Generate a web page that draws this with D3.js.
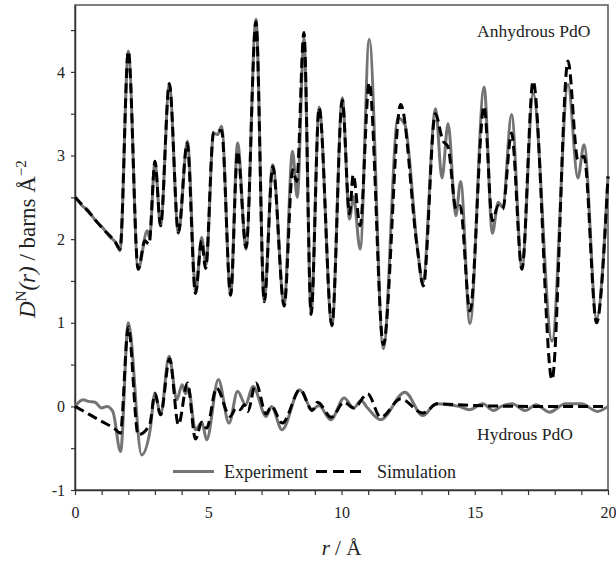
<!DOCTYPE html>
<html>
<head>
<meta charset="utf-8">
<script src="https://cdn.jsdelivr.net/npm/d3@7"></script>
<style>
  body { margin: 0; background: #fff; }
  text { font-family: "Liberation Serif", "Times New Roman", serif; fill: #222; }
</style>
</head>
<body>
<div id="chart"></div>
<script>
// Data: [r (Å), D(r)]
const anhydrousExp = [[0,2.51],[0.3,2.39],[0.45,2.36],[0.75,2.23],[1.0,2.15],[1.3,2.03],[1.55,1.95],[1.69,1.86],[2.0,4.25],[2.37,1.64],[2.71,2.10],[2.8,2.02],[3.0,2.93],[3.21,2.16],[3.54,3.85],[3.88,2.07],[4.22,3.17],[4.53,1.36],[4.75,2.02],[4.92,1.70],[5.2,3.27],[5.35,3.25],[5.5,3.35],[5.84,1.33],[6.1,3.15],[6.42,1.88],[6.79,4.63],[7.1,1.27],[7.42,2.89],[7.85,1.22],[8.16,3.05],[8.34,2.50],[8.59,4.40],[8.86,1.12],[9.16,3.58],[9.64,0.96],[10.03,3.69],[10.3,2.24],[10.45,2.51],[10.7,1.88],[11.04,4.39],[11.57,0.69],[12.12,3.45],[12.38,3.37],[12.84,1.92],[13.05,1.48],[13.53,3.56],[13.77,2.73],[14.0,3.38],[14.29,2.28],[14.47,2.69],[14.82,0.99],[15.35,3.82],[15.66,2.07],[15.88,2.44],[16.05,2.38],[16.38,3.49],[16.77,1.66],[17.19,3.74],[17.9,0.78],[18.5,3.85],[18.87,2.73],[19.1,3.13],[19.57,1.05],[20,2.75]];

const anhydrousSim = [[0,2.50],[0.5,2.33],[1.0,2.14],[1.5,1.97],[1.69,1.88],[2.0,4.25],[2.37,1.64],[2.62,1.98],[2.78,1.94],[3.0,2.93],[3.21,2.16],[3.54,3.86],[3.88,2.08],[4.21,3.15],[4.52,1.35],[4.75,1.98],[4.9,1.65],[5.2,3.28],[5.5,3.30],[5.84,1.33],[6.1,3.05],[6.42,1.90],[6.79,4.60],[7.1,1.25],[7.42,2.87],[7.85,1.20],[8.17,2.83],[8.32,2.69],[8.59,4.47],[8.86,1.10],[9.16,3.57],[9.64,0.97],[10.03,3.66],[10.3,2.30],[10.44,2.77],[10.7,2.16],[11.04,3.87],[11.57,0.74],[12.22,3.61],[12.84,1.90],[13.07,1.44],[13.52,3.50],[13.8,3.18],[14.0,3.10],[14.3,2.36],[14.45,2.40],[14.82,1.14],[15.35,3.59],[15.66,2.22],[15.88,2.40],[16.05,2.36],[16.38,3.27],[16.77,1.64],[17.19,3.89],[17.9,0.32],[18.5,4.13],[18.87,2.95],[19.1,2.99],[19.57,1.00],[20,2.75]];

const hydrousExp = [[0,0],[0.3,0.08],[0.5,0.06],[0.75,0.05],[1.0,-0.02],[1.2,0.0],[1.42,-0.06],[1.71,-0.54],[2.0,1.0],[2.5,-0.58],[2.82,-0.28],[3.0,0.16],[3.21,-0.10],[3.53,0.60],[3.82,0.08],[4.02,0.26],[4.15,0.15],[4.25,0.22],[4.52,-0.28],[4.76,-0.19],[4.94,-0.40],[5.38,0.32],[5.78,-0.20],[6.1,0.18],[6.4,0.02],[6.68,0.24],[7.17,-0.12],[7.37,0.0],[7.77,-0.28],[8.43,0.20],[8.9,-0.04],[9.15,0.01],[9.6,-0.16],[10.1,0.10],[10.46,-0.02],[10.73,0.07],[10.98,-0.02],[11.47,-0.16],[12.38,0.17],[13.05,-0.11],[13.55,0.03],[14.0,0.02],[14.4,0.0],[14.8,-0.04],[15.3,0.03],[15.7,-0.05],[16.0,0.0],[16.4,0.03],[16.9,-0.05],[17.3,0.02],[17.8,-0.07],[18.4,0.03],[19.0,0.03],[19.6,-0.06],[20,0.0]];

const hydrousSim = [[0,0],[0.5,-0.09],[1.0,-0.18],[1.5,-0.27],[1.7,-0.32],[2.0,0.95],[2.37,-0.34],[2.8,-0.22],[3.0,0.15],[3.21,-0.10],[3.55,0.57],[3.88,-0.22],[4.22,0.28],[4.52,-0.39],[4.76,-0.19],[4.94,-0.26],[5.31,0.22],[5.82,-0.12],[6.05,-0.02],[6.2,-0.04],[6.35,0.02],[6.48,-0.06],[6.79,0.28],[7.17,-0.09],[7.37,0.0],[7.78,-0.20],[8.45,0.20],[8.9,-0.05],[9.1,0.05],[9.62,-0.13],[10.1,0.05],[10.46,-0.02],[10.98,0.15],[11.47,-0.13],[12.23,0.09],[13.05,-0.08],[13.6,0.03],[15,0.01],[17,0.0],[20,0.0]];

const xTicks = d3.range(0, 21, 1);
const yTicks = d3.range(-1, 4.51, 0.5);

// Define the dimensions and margins for the SVG
const margin = { top: 5, right: 8, bottom: 72, left: 75 };
const width = 616 - margin.left - margin.right;
const height = 562 - margin.top - margin.bottom;

const svg = d3.select("#chart")
  .append("svg")
  .attr("width", 616)
  .attr("height", 562)
  .append("g")
  .attr("transform", `translate(${margin.left},${margin.top})`);

// Scales
const x = d3.scaleLinear().domain([0, 20]).range([0, width]);
const y = d3.scaleLinear().domain([-1, 4.8]).range([height, 0]);

// Frame
svg.append("rect")
  .attr("width", width)
  .attr("height", height)
  .attr("fill", "none")
  .attr("stroke", "#555")
  .attr("stroke-width", 1.5);

// Axes
const xAxis = svg.append("g")
  .attr("transform", `translate(0,${height})`)
  .call(d3.axisBottom(x).tickValues(xTicks)
    .tickFormat(d => d % 5 === 0 ? String(d) : "")
    .tickSize(5).tickPadding(12).tickSizeOuter(0));

const yAxis = svg.append("g")
  .call(d3.axisLeft(y).tickValues(yTicks)
    .tickFormat(d => Number.isInteger(d) ? String(d) : "")
    .tickSize(4).tickPadding(6).tickSizeOuter(0));

[xAxis, yAxis].forEach(g => {
  g.select(".domain").attr("stroke", "#333").attr("stroke-width", 1.5);
  g.selectAll(".tick line").attr("stroke", "#333").attr("stroke-width", 1.2);
  g.selectAll("text")
    .style("font-family", "'Liberation Serif', serif")
    .style("font-size", "16px")
    .attr("fill", "#222");
});

// Axis titles
svg.append("text")
  .attr("x", width / 2)
  .attr("y", height + 65)
  .style("text-anchor", "middle")
  .style("font-size", "21px")
  .html('<tspan font-style="italic">r</tspan> / Å');

const yTitle = svg.append("text")
  .attr("transform", `translate(${-margin.left + 35},${y(2.0)}) rotate(-90)`)
  .style("text-anchor", "middle")
  .style("font-size", "23px");
yTitle.append("tspan").attr("font-style", "italic").text("D");
yTitle.append("tspan").attr("dy", -9).style("font-size", "15px").text("N");
yTitle.append("tspan").attr("dy", 9).attr("font-style", "italic").text("(r)");
yTitle.append("tspan").text(" / barns Å");
yTitle.append("tspan").attr("dy", -9).style("font-size", "15px").text("\u22122");

// Lines
const line = d3.line()
  .x(d => x(d[0]))
  .y(d => y(d[1]))
  .curve(d3.curveMonotoneX);

[anhydrousExp, hydrousExp].forEach(s => {
  svg.append("path")
    .datum(s)
    .attr("fill", "none")
    .attr("stroke", "#747474")
    .attr("stroke-width", 3)
    .attr("d", line);
});

[anhydrousSim, hydrousSim].forEach(s => {
  svg.append("path")
    .datum(s)
    .attr("fill", "none")
    .attr("stroke", "#000")
    .attr("stroke-width", 3)
    .attr("stroke-dasharray", "10,5")
    .attr("d", line);
});

// Panel labels
svg.append("text")
  .attr("x", 402)
  .attr("y", 32)
  .style("font-size", "17.5px")
  .text("Anhydrous PdO");

svg.append("text")
  .attr("x", 402)
  .attr("y", 435)
  .style("font-size", "17.5px")
  .text("Hydrous PdO");

// Legend
const legend = svg.append("g")
  .attr("transform", `translate(98, ${y(-0.78)})`);

legend.append("line")
  .attr("x1", 0).attr("x2", 41)
  .attr("stroke", "#747474").attr("stroke-width", 3);
legend.append("text")
  .attr("x", 51).attr("dy", "0.33em")
  .style("font-size", "18px")
  .text("Experiment");
legend.append("line")
  .attr("x1", 143).attr("x2", 188)
  .attr("stroke", "#000").attr("stroke-width", 3)
  .attr("stroke-dasharray", "11,6");
legend.append("text")
  .attr("x", 204).attr("dy", "0.33em")
  .style("font-size", "18px")
  .text("Simulation");
</script>
</body>
</html>
